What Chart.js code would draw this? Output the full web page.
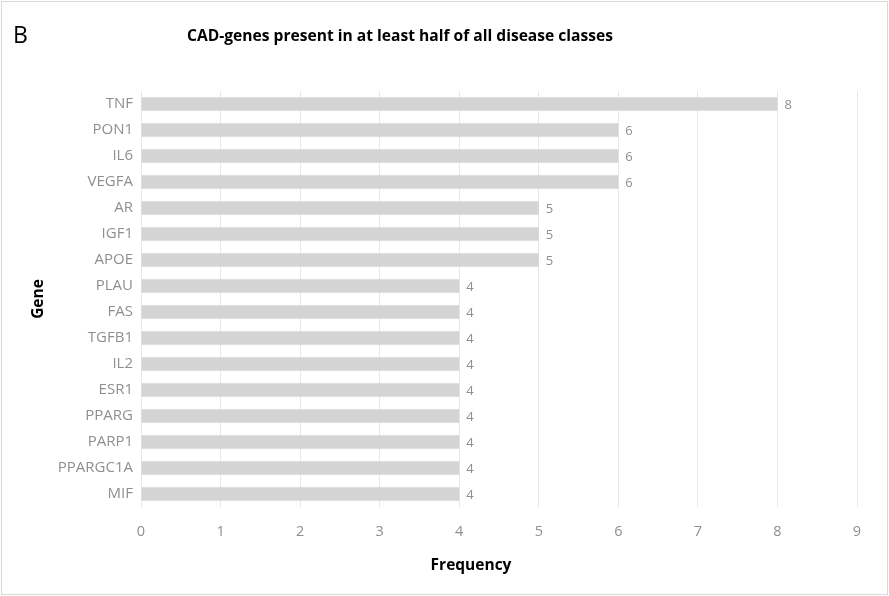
<!DOCTYPE html>
<html>
<head>
<meta charset="utf-8">
<script src="https://cdn.jsdelivr.net/npm/chart.js@4"></script>
<style>
  html, body { margin: 0; padding: 0; background: #fff; }
  #wrap { width: 889px; height: 596px; }
</style>
</head>
<body>
<div id="wrap"><canvas id="gene-chart" width="889" height="596"></canvas></div>
<script>
// genes, top to bottom
const genes = ['TNF', 'PON1', 'IL6', 'VEGFA', 'AR', 'IGF1', 'APOE', 'PLAU', 'FAS', 'TGFB1', 'IL2', 'ESR1', 'PPARG', 'PARP1', 'PPARGC1A', 'MIF'];
const frequency = [8, 6, 6, 6, 5, 5, 5, 4, 4, 4, 4, 4, 4, 4, 4, 4];
const xTicks = [0, 1, 2, 3, 4, 5, 6, 7, 8, 9];

const FONT = "'Open Sans', 'Liberation Sans', sans-serif";
const GREY = '#8f8f8f';

// frame, panel letter, titles and value labels
const decorations = {
  id: 'decorations',
  afterDraw(chart) {
    const ctx = chart.ctx;
    ctx.save();
    ctx.strokeStyle = '#d9d9d9';
    ctx.lineWidth = 1;
    ctx.strokeRect(1.5, 1.5, 886, 593);

    ctx.fillStyle = '#000';
    ctx.textBaseline = 'middle';
    ctx.font = '23px ' + FONT;
    ctx.textAlign = 'left';
    ctx.fillText('B', 13, 36);

    ctx.font = 'bold 15.6px ' + FONT;
    ctx.textAlign = 'center';
    ctx.fillText('CAD-genes present in at least half of all disease classes', 400, 37);

    ctx.font = 'bold 15.5px ' + FONT;
    ctx.fillText('Frequency', 471, 566);

    ctx.translate(39, 299);
    ctx.rotate(-Math.PI / 2);
    ctx.fillText('Gene', 0, 0);
    ctx.restore();

    // value labels at bar ends
    const meta = chart.getDatasetMeta(0);
    ctx.save();
    ctx.fillStyle = GREY;
    ctx.font = '13px ' + FONT;
    ctx.textAlign = 'left';
    ctx.textBaseline = 'middle';
    meta.data.forEach((bar, i) => {
      ctx.fillText(String(frequency[i]), bar.x + 7, bar.y + 1);
    });
    ctx.restore();
  }
};

new Chart(document.getElementById('gene-chart'), {
  type: 'bar',
  data: {
    labels: genes,
    datasets: [{
      data: frequency,
      backgroundColor: '#d4d4d4',
      categoryPercentage: 0.52,
      barPercentage: 1
    }]
  },
  options: {
    indexAxis: 'y',
    responsive: false,
    animation: false,
    layout: { padding: { top: 91, right: 32, bottom: 0, left: 0 } },
    plugins: {
      legend: { display: false },
      tooltip: { enabled: false }
    },
    scales: {
      x: {
        min: 0,
        max: 9,
        afterBuildTicks(scale) { scale.ticks = xTicks.map(v => ({ value: v })); },
        afterFit(scale) { scale.height = 89; },
        grid: { color: '#e8e8e8', drawTicks: false },
        border: { display: false },
        ticks: { color: GREY, font: { family: FONT, size: 14.5 }, padding: 16 }
      },
      y: {
        afterFit(scale) { scale.width = 141; },
        grid: { display: false, drawTicks: false },
        border: { display: false },
        ticks: { color: GREY, font: { family: FONT, size: 15 }, padding: 8 }
      }
    }
  },
  plugins: [decorations]
});
</script>
</body>
</html>
